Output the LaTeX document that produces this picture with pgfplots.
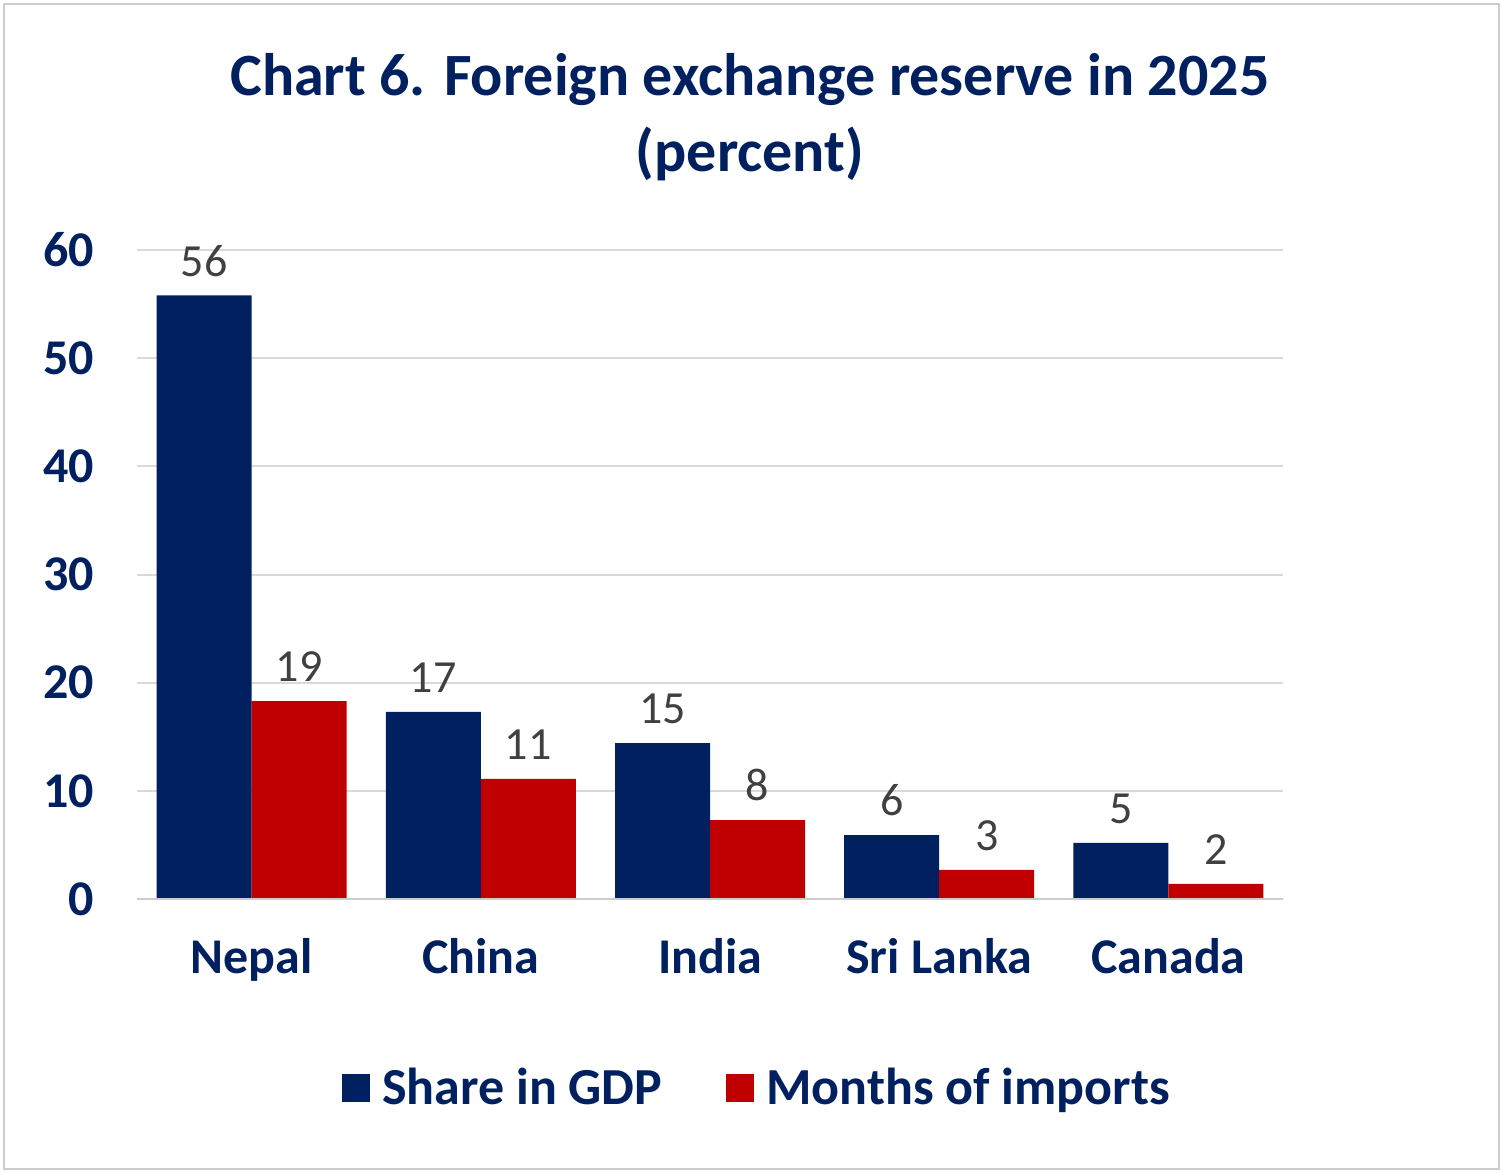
\documentclass[border=0pt]{standalone}
\usepackage{pgfplots}
\pgfplotsset{compat=1.18}
\usepackage{fontspec}
\setmainfont{Carlito}
\definecolor{navy}{HTML}{002060}
\definecolor{dred}{HTML}{C00000}
\definecolor{lblgray}{HTML}{404040}
\begin{document}
\begin{tikzpicture}
\useasboundingbox (-68.5pt,-137pt) rectangle (683pt,449.5pt);
\draw[gray!40, line width=1pt] (-66.5pt,-135pt) rectangle (681pt,447.5pt);
\node[font=\bfseries\fontsize{30}{38}\selectfont, text=navy, align=center] at (306.5pt,391pt) {Chart 6. Foreign exchange reserve in 2025\\(percent)};
\begin{axis}[
  at={(0,0)}, anchor=south west,
  scale only axis, width=573pt, height=324.5pt,
  xmin=-0.5, xmax=4.5, ymin=0, ymax=60,
  ybar=0pt, bar width=47.5pt,
  axis line style={draw=none},
  ymajorgrids, grid style={gray!30, line width=1pt},
  ytick={0,10,...,60}, xtick={0,1,2,3,4},
  xticklabels={Nepal,China,India,Sri Lanka,Canada},
  major tick length=0pt,
  /pgf/number format/assume math mode=true,
  yticklabel style={font=\bfseries\fontsize{25}{30}\selectfont, text=navy, xshift=-18pt},
  xticklabel style={font=\bfseries\fontsize{25}{30}\selectfont, text=navy, yshift=-16pt},
  nodes near coords, point meta=explicit symbolic,
  nodes near coords style={font=\fontsize{23}{28}\selectfont, text=lblgray, yshift=6pt},
  legend style={draw=none, at={(0.542,-0.291)}, anchor=center, legend columns=2,
    font=\bfseries\fontsize{26}{30}\selectfont, text=navy,
    /tikz/every even column/.append style={column sep=30pt}},
  legend image code/.code={\fill[#1] (0pt,-7pt) rectangle (14pt,7pt);},
  legend cell align=left,
]
\addplot[fill=navy, draw=none] table[meta=l] {
x y l
0 55.8 56
1 17.3 17
2 14.4 15
3 5.9 6
4 5.2 5
};
\addplot[fill=dred, draw=none] table[meta=l] {
x y l
0 18.3 19
1 11.1 11
2 7.3 8
3 2.7 3
4 1.4 2
};
\draw[gray!40, line width=1pt] (axis cs:-0.5,0) -- (axis cs:4.5,0);
\legend{\hspace{4pt}Share in GDP, \hspace{4pt}Months of imports}
\end{axis}
\end{tikzpicture}
\end{document}
